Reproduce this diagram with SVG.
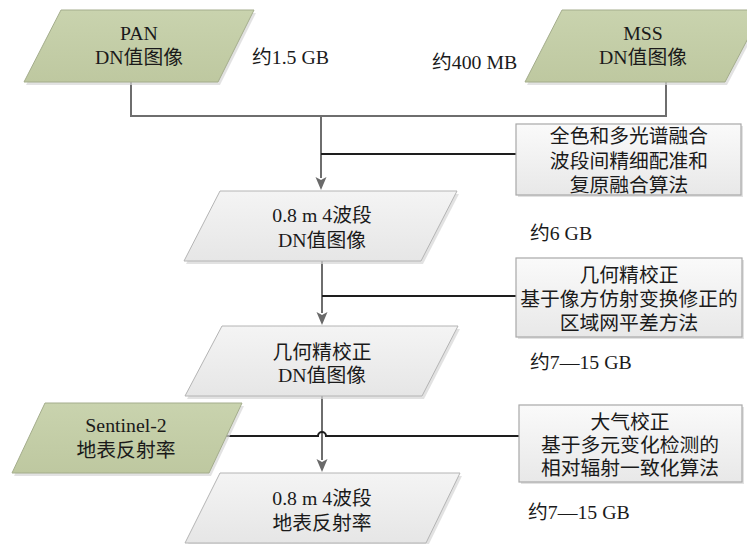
<svg xmlns="http://www.w3.org/2000/svg" width="747" height="544" viewBox="0 0 747 544">
<defs>
<style>
.t{font-family:"Liberation Serif","Noto Sans CJK SC",serif;font-size:19.8px;fill:#1a1a1a;text-anchor:middle}
.l{font-family:"Liberation Serif","Noto Sans CJK SC",serif;font-size:19.8px;fill:#1a1a1a}
.g{fill:url(#gGreen);stroke:#a4ad8c;stroke-width:1}
.w{fill:url(#gGray);stroke:#b4b4b4;stroke-width:1}
.b{fill:url(#gBox);stroke:#a8a8a8;stroke-width:1.2}
.sh{fill:#d6d6d6;opacity:0.7}
.cg{fill:none;stroke:#6e6e6e;stroke-width:2}
.cb{fill:none;stroke:#1e1e1e;stroke-width:2}
</style>
<linearGradient id="gGreen" x1="0" y1="0" x2="0" y2="1"><stop offset="0" stop-color="#c9d3ae"/><stop offset="1" stop-color="#bec8a0"/></linearGradient>
<linearGradient id="gGray" x1="0" y1="0" x2="0" y2="1"><stop offset="0" stop-color="#f4f4f4"/><stop offset="1" stop-color="#e6e6e6"/></linearGradient>
<linearGradient id="gBox" x1="0" y1="0" x2="0" y2="1"><stop offset="0" stop-color="#fafafa"/><stop offset="1" stop-color="#e8e8e8"/></linearGradient>
<marker id="arr" markerUnits="userSpaceOnUse" markerWidth="12" markerHeight="14" refX="6" refY="13" orient="auto-start-reverse" viewBox="0 0 12 14"><path d="M1,0 L6,13 L11,0 L6,3 Z" fill="#6a6a6a" transform="rotate(-90 6 6.5)"/></marker>
</defs>

<g id="connectors">
<path class="cg" d="M131 82 V116 H666 V82"/>
<path class="cg" d="M321 116 V178"/>
<path d="M315.5 177 L321 190 L326.5 177 L321 180 Z" fill="#6a6a6a"/>
<path class="cb" d="M321 154 H516"/>
<path class="cg" d="M322 261 V313"/>
<path d="M316.5 312 L322 325 L327.5 312 L322 315 Z" fill="#6a6a6a"/>
<path class="cb" d="M322 296 H516"/>
<path class="cg" d="M322 396 V460"/>
<path d="M316.5 459 L322 472 L327.5 459 L322 462 Z" fill="#6a6a6a"/>
<path class="cb" d="M226 436 H318 A4 4 0 0 1 326 436 H519"/>
</g>

<g id="pan">
<polygon class="sh" points="63,13 256,13 220,85 26,85"/>
<polygon class="g" points="61,10 254,10 218,82 24,82"/>
<text class="t" x="139" y="40">PAN</text>
<text class="t" x="139" y="64">DN值图像</text>
</g>

<g id="mss">
<polygon class="sh" points="564,13 765,13 727,85 527,85"/>
<polygon class="g" points="562,10 763,10 725,82 525,82"/>
<text class="t" x="643" y="40">MSS</text>
<text class="t" x="643" y="64">DN值图像</text>
</g>

<g id="fusion">
<rect class="sh" x="518" y="126" width="225" height="71"/>
<rect class="b" x="516" y="124" width="225" height="71"/>
<text class="t" x="629" y="143">全色和多光谱融合</text>
<text class="t" x="629" y="168">波段间精细配准和</text>
<text class="t" x="629" y="192">复原融合算法</text>
</g>

<g id="dn4">
<polygon class="sh" points="222,194 459,194 423,264 186,264"/>
<polygon class="w" points="220,191 457,191 421,261 184,261"/>
<text class="t" x="322" y="222">0.8 m 4波段</text>
<text class="t" x="322" y="247">DN值图像</text>
</g>

<g id="geo">
<rect class="sh" x="518" y="260" width="226" height="79"/>
<rect class="b" x="516" y="258" width="226" height="79"/>
<text class="t" x="629" y="282">几何精校正</text>
<text class="t" x="629" y="306">基于像方仿射变换修正的</text>
<text class="t" x="629" y="330">区域网平差方法</text>
</g>

<g id="geodn">
<polygon class="sh" points="224,329 460,329 424,399 187,399"/>
<polygon class="w" points="222,326 458,326 422,396 185,396"/>
<text class="t" x="322" y="359">几何精校正</text>
<text class="t" x="322" y="382">DN值图像</text>
</g>

<g id="sentinel">
<polygon class="sh" points="47,406 244,406 211,476 14,476"/>
<polygon class="g" points="45,403 242,403 209,473 12,473"/>
<text class="t" x="126" y="432">Sentinel-2</text>
<text class="t" x="126" y="457">地表反射率</text>
</g>

<g id="atm">
<rect class="sh" x="521" y="407" width="223" height="77"/>
<rect class="b" x="519" y="405" width="223" height="77"/>
<text class="t" x="630" y="429">大气校正</text>
<text class="t" x="630" y="452">基于多元变化检测的</text>
<text class="t" x="630" y="475">相对辐射一致化算法</text>
</g>

<g id="refl">
<polygon class="sh" points="222,476 462,476 428,546 187,546"/>
<polygon class="w" points="220,473 460,473 426,543 185,543"/>
<text class="t" x="322" y="505">0.8 m 4波段</text>
<text class="t" x="322" y="530">地表反射率</text>
</g>

<g id="labels">
<text class="l" x="252" y="64">约1.5 GB</text>
<text class="l" x="432" y="69">约400 MB</text>
<text class="l" x="530" y="240">约6 GB</text>
<text class="l" x="530" y="369">约7—15 GB</text>
<text class="l" x="528" y="519">约7—15 GB</text>
</g>
</svg>
